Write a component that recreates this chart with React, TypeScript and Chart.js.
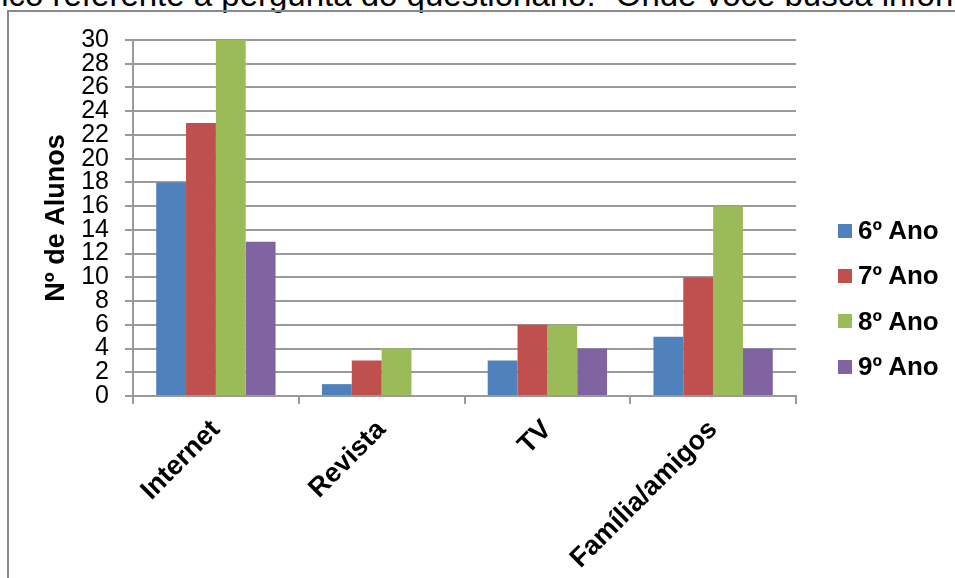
import { useEffect, useRef } from "react";
import { Chart, registerables } from "chart.js";

Chart.register(...registerables);

// Onde os alunos buscam informação, por ano escolar
const categories = ["Internet", "Revista", "TV", "Família/amigos"];
const seriesNames = ["6º Ano", "7º Ano", "8º Ano", "9º Ano"];
const ano6 = [18, 1, 3, 5];
const ano7 = [23, 3, 6, 10];
const ano8 = [30, 4, 6, 16];
const ano9 = [13, 0, 4, 4];
const seriesValues = [ano6, ano7, ano8, ano9];
const seriesColors = ["#4F81BD", "#C0504D", "#9BBB59", "#8064A2"];
const yMin = 0;
const yMax = 30;
const yStep = 2;
const yTitle = "Nº de Alunos";
const heading = "Gráfico referente à pergunta do questionário: \u201COnde você busca informações?\u201D";

const FONT = "'Liberation Sans', Arial, Helvetica, sans-serif";
const GRID = "#9a9a9a";

export default function App() {
  const canvasRef = useRef<HTMLCanvasElement | null>(null);

  useEffect(() => {
    const canvas = canvasRef.current;
    if (!canvas) return;
    const chart = new Chart(canvas, {
      type: "bar",
      data: {
        labels: categories,
        datasets: seriesNames.map((name, i) => ({
          label: name,
          data: seriesValues[i],
          backgroundColor: seriesColors[i],
          borderWidth: 0,
          barPercentage: 1,
          categoryPercentage: 0.72,
        })),
      },
      options: {
        animation: false,
        responsive: true,
        maintainAspectRatio: false,
        layout: { padding: { left: 0, top: 40, right: 159, bottom: 0 } },
        plugins: {
          legend: { display: false },
          tooltip: { enabled: false },
        },
        scales: {
          x: {
            offset: true,
            grid: {
              display: true,
              drawOnChartArea: false,
              drawTicks: true,
              tickLength: 8,
              color: GRID,
              lineWidth: 2,
              offset: true,
            },
            border: { display: true, color: GRID, width: 2 },
            ticks: {
              color: "#000",
              font: { family: FONT, size: 27, weight: "bold" },
              minRotation: 45,
              maxRotation: 45,
              autoSkip: false,
              padding: 10,
            },
            afterFit: (scale: any) => {
              scale.height = 182;
            },
          },
          y: {
            min: yMin,
            max: yMax,
            ticks: {
              stepSize: yStep,
              autoSkip: false,
              color: "#000",
              font: { family: FONT, size: 25, lineHeight: 1 },
              padding: 16,
            },
            grid: {
              color: GRID,
              lineWidth: 2,
              tickLength: 8,
              drawTicks: true,
            },
            border: { display: true, color: GRID, width: 2 },
            title: {
              display: true,
              text: yTitle,
              color: "#000",
              font: { family: FONT, size: 27, weight: "bold" },
              padding: { top: 40, bottom: 0 },
            },
            afterFit: (scale: any) => {
              scale.width = 133;
            },
          },
        },
      },
    });
    return () => chart.destroy();
  }, []);

  return (
    <div
      style={{
        position: "fixed",
        left: 0,
        top: 0,
        width: 955,
        height: 578,
        overflow: "hidden",
        background: "#fff",
        fontFamily: FONT,
      }}
    >
      <div
        style={{
          position: "absolute",
          left: -63,
          top: -22,
          fontSize: 33,
          lineHeight: "33px",
          whiteSpace: "nowrap",
          color: "#000",
        }}
      >
        {heading}
      </div>
      <div
        style={{
          position: "absolute",
          left: 7,
          top: 10,
          width: 1100,
          height: 800,
          border: "2px solid #8a8a8a",
          boxSizing: "border-box",
        }}
      />
      <div style={{ position: "absolute", left: 0, top: 0, width: 955, height: 578 }}>
        <canvas ref={canvasRef} />
      </div>
      <div style={{ position: "absolute", left: 838, top: 208 }}>
        {seriesNames.map((name, i) => (
          <div
            key={name}
            style={{
              display: "flex",
              alignItems: "center",
              height: 45.3,
              fontSize: 26,
              fontWeight: "bold",
              color: "#000",
              whiteSpace: "nowrap",
            }}
          >
            <span
              style={{
                display: "inline-block",
                width: 14,
                height: 14,
                background: seriesColors[i],
                marginRight: 6,
              }}
            />
            {name}
          </div>
        ))}
      </div>
    </div>
  );
}
